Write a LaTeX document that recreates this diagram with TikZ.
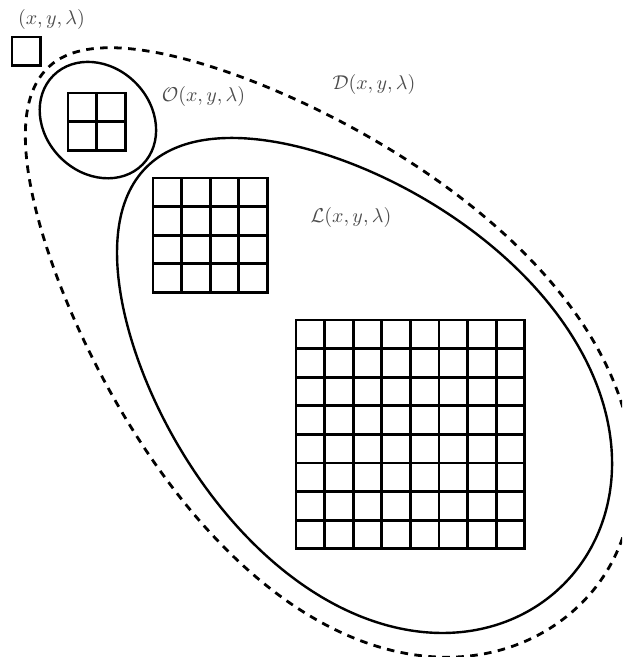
\documentclass[tikz,border=0pt]{standalone}
\usepackage{amsmath}
\usepackage{amssymb}
\usepackage{tikz}
\usetikzlibrary{calc}

\begin{document}
\begin{tikzpicture}[x=0.5pt,y=0.5pt,
    gridline/.style={line width=1.4pt,line cap=rect},
    blob/.style={line width=1.2pt},
    dblob/.style={line width=1.4pt,dash pattern=on 3.8pt off 3.2pt},
    lbl/.style={text=black!70,inner sep=0pt},
    declare function={
      lu(\t)=-15+295*cos(\t);
      lv(\t)=5+188*sin(\t)*(1+0.16*cos(\t));
      du(\t)=-72+378*cos(\t);
      dv(\t)=5+(\t<180 ? 200 : 207)*sin(\t)*(1+0.265*cos(\t));
    }]
  \useasboundingbox (0,0) rectangle (622,657);
  \fill[white] (0,0) rectangle (622,657);
  \clip (0,0) rectangle (622,657);

  % square grids: lower left corner / number of cells
  \foreach \gx/\gy/\gn in {12/591.4/1, 68/506.8/2, 153/364.6/4, 296/108.2/8} {
    \foreach \i in {0,...,\gn} {
      \draw[gridline] ({\gx+\i*28.6},\gy) -- ++(0,{\gn*28.6});
      \draw[gridline] (\gx,{\gy+\i*28.6}) -- ++({\gn*28.6},0);
    }
  }

  % O
  \draw[blob,rotate around={-45:(97.9,536.9)}] (97.9,536.9)
    ellipse[x radius=63,y radius=53];
  % L
  \draw[blob] plot[domain=0:360,samples=121,smooth,variable=\t]
    ({362+0.7071*(lu(\t)+lv(\t))},{267-0.7071*(lu(\t)-lv(\t))});
  % D
  \draw[dblob] plot[domain=0:360,samples=121,smooth,variable=\t]
    ({362+0.7071*(du(\t)+dv(\t))},{267-0.7071*(du(\t)-dv(\t))});

  \node[lbl] (pt) at (51.5,637) {$(x,y,\lambda)$};
  \node[lbl] (O) at (203.5,560) {$\mathcal{O}(x,y,\lambda)$};
  \node[lbl] (D) at (374,572.5) {$\mathcal{D}(x,y,\lambda)$};
  \node[lbl] (L) at (351,439.5) {$\mathcal{L}(x,y,\lambda)$};
\end{tikzpicture}
\end{document}
